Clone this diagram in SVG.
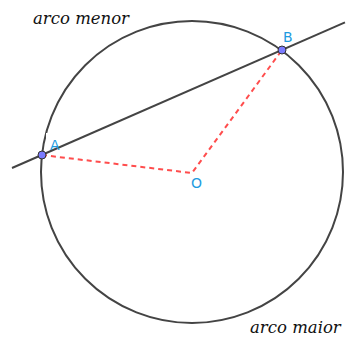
<svg xmlns="http://www.w3.org/2000/svg" width="347" height="338" viewBox="0 0 347 338">
<style>
.lbl{font-family:"DejaVu Sans","Liberation Sans",sans-serif;font-size:14px;fill:#1e9be0}
.arc{font-family:"DejaVu Serif","Liberation Serif",serif;font-style:italic;font-size:16.5px;fill:#111}
.pt{fill:#7b7bff;stroke:#333;stroke-width:1}
</style>
<rect width="347" height="338" fill="#fff"/>
<g id="circle"><circle cx="192" cy="172" r="151" fill="none" stroke="#444" stroke-width="2"/></g>
<rect x="46" y="133" width="16" height="17" fill="#fff"/>
<g id="connectors">
<line x1="12" y1="168" x2="345" y2="22.4" stroke="#444" stroke-width="2"/>
<polyline points="42,155 192,173 282,50" fill="none" stroke="#ff4d4d" stroke-width="2" stroke-dasharray="5,4"/>
</g>
<g id="A"><circle class="pt" cx="42" cy="155" r="4"/><text class="lbl" x="50" y="150">A</text></g>
<g id="B"><circle class="pt" cx="282" cy="50" r="4"/><text class="lbl" x="283" y="42">B</text></g>
<g id="O"><text class="lbl" x="191" y="188">O</text></g>
<g id="labels">
<text class="arc" x="33" y="24">arco menor</text>
<text class="arc" x="250" y="333">arco maior</text>
</g>
</svg>
